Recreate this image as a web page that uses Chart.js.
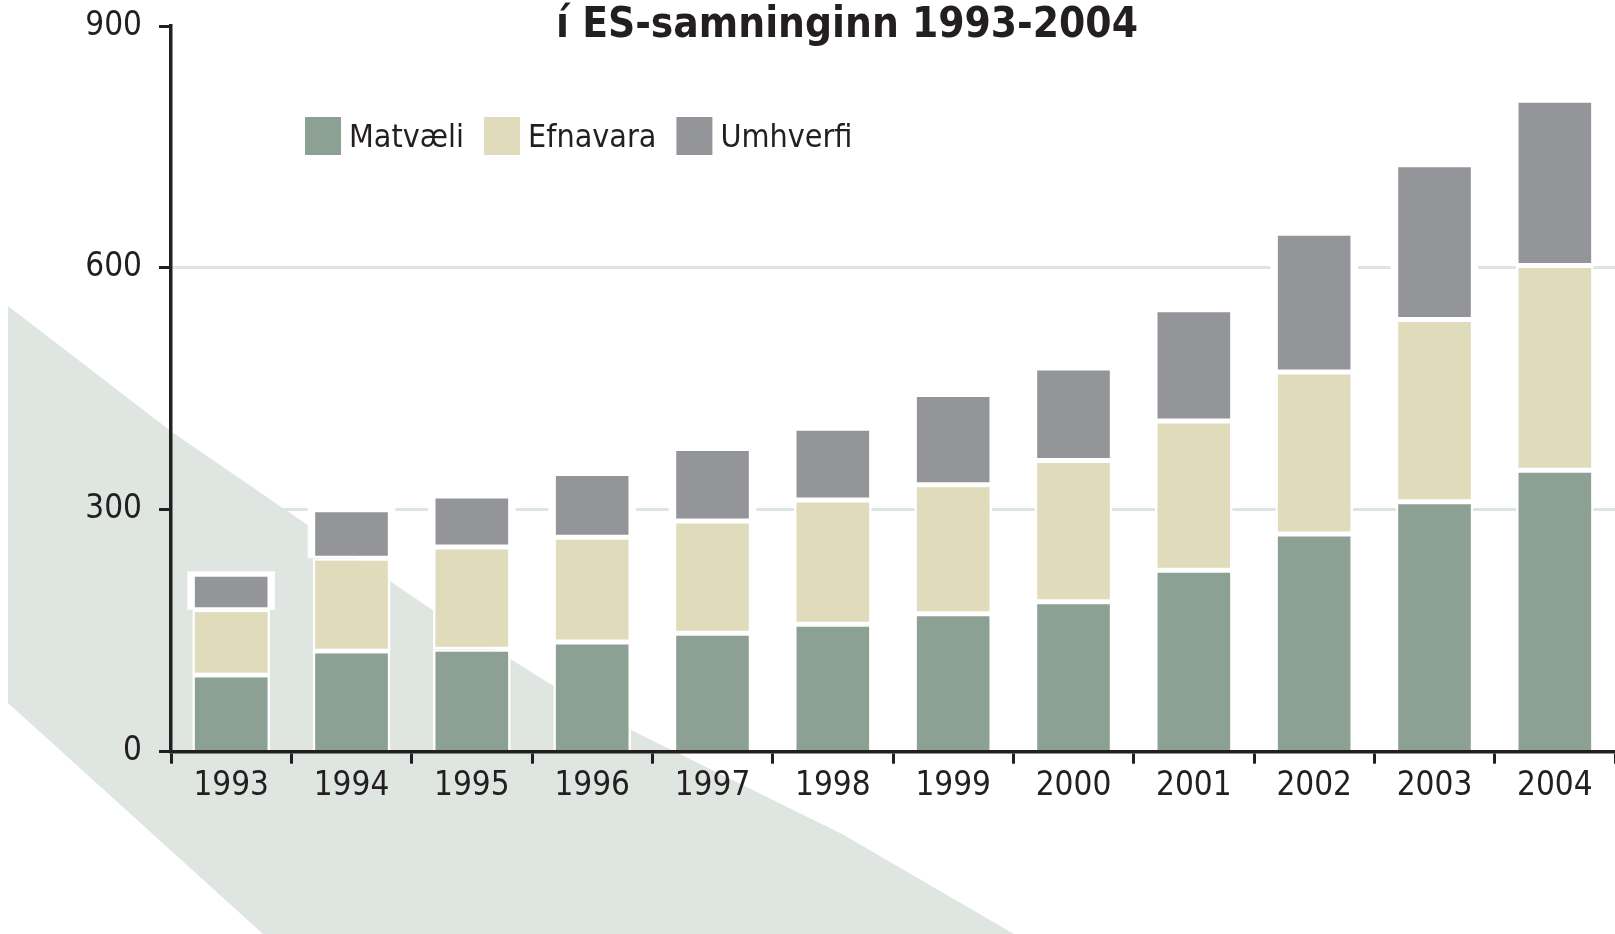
<!DOCTYPE html>
<html>
<head>
<meta charset="utf-8">
<script src="https://cdn.jsdelivr.net/npm/chart.js@4.4.1/dist/chart.umd.min.js"></script>
<style>
  html, body { margin: 0; padding: 0; background: #ffffff; }
  canvas { display: block; }
</style>
</head>
<body>
<canvas id="chart" width="1615" height="934"></canvas>
<script>
// data
var years = ['1993', '1994', '1995', '1996', '1997', '1998', '1999', '2000', '2001', '2002', '2003', '2004'];
var matvaeli = [95, 125, 127, 136, 147, 158, 171, 186, 225, 270, 310, 349];
var efnavara = [81, 115, 127, 130, 139, 154, 160, 175, 185, 201, 226, 254];
var umhverfi = [44, 60, 63, 79, 90, 89, 112, 115, 138, 172, 192, 205];
var yTicks = [0, 300, 600, 900];
var titleText = 'í ES-samninginn 1993-2004';

var narrow = "'Liberation Sans Narrow', 'DejaVu Sans Condensed', sans-serif";
var ink = '#231f20';
var bandColor = '#dfe5e1';

// grey diagonal band behind the chart
var bandPlugin = {
    id: 'band',
    beforeDraw: function (chart) {
        var ctx = chart.ctx;
        var h = chart.height;
        ctx.save();
        ctx.fillStyle = bandColor;
        ctx.beginPath();
        ctx.moveTo(8, 306);
        ctx.lineTo(172, 432);
        ctx.lineTo(309, 526);
        ctx.lineTo(428, 607);
        ctx.lineTo(547, 682);
        ctx.lineTo(635, 732);
        ctx.lineTo(842, 834);
        ctx.lineTo(1014, h);
        ctx.lineTo(263, h);
        ctx.lineTo(8, 703);
        ctx.closePath();
        ctx.fill();
        ctx.restore();
    }
};

// white frame round every stack
var haloPlugin = {
    id: 'halo',
    beforeDatasetsDraw: function (chart) {
        var ctx = chart.ctx;
        var top = chart.getDatasetMeta(chart.data.datasets.length - 1);
        ctx.save();
        ctx.fillStyle = '#ffffff';
        top.data.forEach(function (bar) {
            var p = bar.getProps(['x', 'y', 'base', 'width'], true);
            ctx.fillRect(p.x - p.width / 2 - 5, p.y - 3, p.width + 10, p.base - p.y + 3);
        });
        ctx.restore();
    }
};

// title and legend drawn inside the plot
var textPlugin = {
    id: 'texts',
    afterDraw: function (chart) {
        var ctx = chart.ctx;
        var area = chart.chartArea;
        ctx.save();
        ctx.fillStyle = ink;
        ctx.font = 'bold 42px ' + narrow;
        ctx.textAlign = 'center';
        ctx.textBaseline = 'alphabetic';
        ctx.fillText(titleText, 847, 37);

        ctx.font = '32px ' + narrow;
        ctx.textAlign = 'left';
        var x = area.left + 134;
        var y = area.top + 91;
        chart.data.datasets.forEach(function (ds) {
            ctx.fillStyle = ds.backgroundColor;
            ctx.fillRect(x, y, 36, 38);
            x += 36 + 8;
            ctx.fillStyle = ink;
            ctx.fillText(ds.label, x, y + 30);
            x += ctx.measureText(ds.label).width + 20;
        });
        ctx.restore();
    }
};

var ctxChart = document.getElementById('chart').getContext('2d');
var chart = new Chart(ctxChart, {
    type: 'bar',
    data: {
        labels: years,
        datasets: [
            { label: 'Matvæli', data: matvaeli, backgroundColor: '#8ca094', borderColor: '#ffffff', borderWidth: 2.5, borderSkipped: 'start' },
            { label: 'Efnavara', data: efnavara, backgroundColor: '#dfdbbb', borderColor: '#ffffff', borderWidth: 2.5, borderSkipped: false },
            { label: 'Umhverfi', data: umhverfi, backgroundColor: '#949599', borderColor: '#ffffff', borderWidth: 2.5, borderSkipped: false }
        ]
    },
    options: {
        responsive: false,
        animation: false,
        layout: { padding: { top: 26, right: 0, left: 0, bottom: 0 } },
        datasets: { bar: { barPercentage: 0.645, categoryPercentage: 1 } },
        plugins: {
            legend: { display: false },
            tooltip: { enabled: false }
        },
        scales: {
            x: {
                stacked: true,
                afterFit: function (scale) { scale.height = 182.3; },
                border: { color: ink, width: 3.5, z: 1 },
                grid: { drawOnChartArea: false, offset: true, tickLength: 12, tickColor: ink, tickWidth: 3 },
                ticks: { color: ink, padding: 3, font: { family: narrow, size: 33 } }
            },
            y: {
                stacked: true,
                min: 0,
                max: 900,
                afterFit: function (scale) {
                    scale.width = 171;
                    scale.paddingTop = 0;
                    scale.paddingBottom = 0;
                },
                afterBuildTicks: function (scale) {
                    scale.ticks = yTicks.map(function (v) { return { value: v }; });
                },
                border: { color: ink, width: 3.5 },
                grid: {
                    color: function (c) {
                        return (c.tick && (c.tick.value === 300 || c.tick.value === 600)) ? '#dde5e2' : 'rgba(0,0,0,0)';
                    },
                    lineWidth: 3,
                    tickLength: 12,
                    tickColor: ink,
                    tickWidth: 3
                },
                ticks: { color: ink, padding: 17, font: { family: narrow, size: 33 } }
            }
        }
    },
    plugins: [bandPlugin, haloPlugin, textPlugin]
});
</script>
</body>
</html>
